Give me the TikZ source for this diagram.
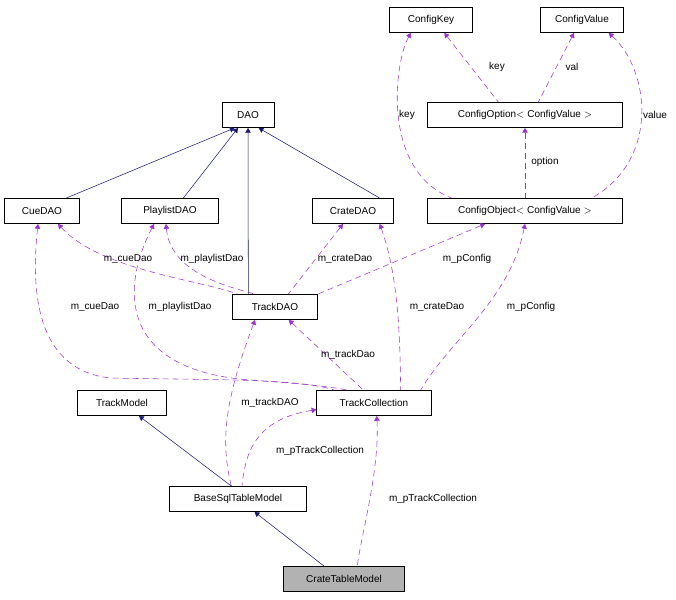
\documentclass[tikz,border=0pt]{standalone}
\usepackage{fontspec}
\setmainfont{Liberation Sans}
\usetikzlibrary{arrows.meta}
\definecolor{navy}{RGB}{25,25,112}
\definecolor{usecol}{RGB}{154,50,205}

\begin{document}
\begin{tikzpicture}[x=0.75pt, y=-0.75pt, font=\fontsize{7.5}{9}\selectfont,
  cls/.style={draw, fill=white, minimum height=19pt, inner sep=2pt},
  inherit/.style={color=navy, {Triangle[fill=navy]}-},
  uses/.style={color=usecol, dash pattern=on 4.5pt off 3pt, {Triangle[fill=usecol]}-},
  lbl/.style={inner sep=1pt}]
\useasboundingbox (0,0) rectangle (676,600);
% classes
\node[cls, minimum width=62pt] (key) at (431,20) {ConfigKey};
\node[cls, minimum width=62pt] (val) at (582,20) {ConfigValue};
\node[cls, minimum width=39pt] (dao) at (248,115) {DAO};
\node[cls, minimum width=146pt] (opt) at (525,115) {ConfigOption$<$ ConfigValue $>$};
\node[cls, minimum width=56pt] (cue) at (42,211) {CueDAO};
\node[cls, minimum width=73pt] (pl) at (170,211) {PlaylistDAO};
\node[cls, minimum width=61pt] (crate) at (353,211) {CrateDAO};
\node[cls, minimum width=146pt] (obj) at (525,211) {ConfigObject$<$ ConfigValue $>$};
\node[cls, minimum width=64pt] (track) at (275,307) {TrackDAO};
\node[cls, minimum width=67pt] (model) at (122,403) {TrackModel};
\node[cls, minimum width=86pt] (coll) at (374,403) {TrackCollection};
\node[cls, minimum width=103pt] (base) at (238,499) {BaseSqlTableModel};
\node[cls, minimum width=91pt, fill=black!30] (ctm) at (344,579) {CrateTableModel};
% inheritance
\draw[inherit] ([xshift=-10pt]dao.south) -- ([xshift=-10pt]cue.north east);
\draw[inherit] (dao) -- ([xshift=10pt]pl.north);
\draw[inherit] (dao) -- ([xshift=-20pt]track.north);
\draw[inherit] ([xshift=8pt]dao.south) -- ([xshift=20pt]crate.north);
\draw[inherit] (model) -- ([xshift=-5pt]base.north);
\draw[inherit] (base) -- ([xshift=-15pt]ctm.north);
% usage
\draw[uses] ([xshift=-15pt]key.south) .. controls (395,60) and (380,170) .. ([xshift=-55pt]obj.north);
\draw[uses] ([xshift=10pt]key.south) -- ([xshift=-20pt]opt.north);
\draw[uses] ([xshift=-6pt]val.south) -- ([xshift=10pt]opt.north);
\draw[uses] ([xshift=20pt]val.south) .. controls (650,70) and (660,160) .. ([xshift=50pt]obj.north);
\draw[uses] (opt) -- (obj);
\draw[uses] ([xshift=-3pt]cue.south) .. controls (30,300) and (40,370) .. (110,378)
  .. controls (200,380) and (300,378) .. ([xshift=-30pt]coll.north);
\draw[uses] ([xshift=12pt]cue.south) .. controls (100,270) and (200,280) .. ([xshift=-28pt]track.north);
\draw[uses] ([xshift=-12pt]pl.south) .. controls (120,290) and (120,370) .. (250,380)
  .. controls (290,383) and (320,385) .. ([xshift=-20pt]coll.north);
\draw[uses] ([xshift=-3pt]pl.south) .. controls (170,270) and (220,285) .. ([xshift=-15pt]track.north);
\draw[uses] (crate) -- ([xshift=10pt]track.north);
\draw[uses] ([xshift=20pt]crate.south) .. controls (400,280) and (400,350) .. ([xshift=20pt]coll.north);
\draw[uses] ([xshift=-30pt]obj.south) -- (track.north east);
\draw[uses] (obj.south) .. controls (510,300) and (450,340) .. ([xshift=35pt]coll.north);
\draw[uses] (track) -- ([xshift=-8pt]coll.north);
\draw[uses] ([xshift=-15pt]track.south) .. controls (225,400) and (220,440) .. ([xshift=-5pt]base.north);
\draw[uses] ([yshift=-5pt]coll.west) .. controls (250,420) and (245,460) .. ([xshift=3pt]base.north);
\draw[uses] ([xshift=2pt]coll.south) .. controls (380,470) and (360,540) .. ([xshift=10pt]ctm.north);
% labels
\node[lbl] (l1) at (497,67) {key};
\node[lbl] (l2) at (572,67) {val};
\node[lbl] (l3) at (407,115) {key};
\node[lbl] (l4) at (655,115) {value};
\node[lbl] (l5) at (545,162) {option};
\node[lbl] (l6) at (128,259) {m\_cueDao};
\node[lbl] (l7) at (212,259) {m\_playlistDao};
\node[lbl] (l8) at (345,259) {m\_crateDao};
\node[lbl] (l9) at (467,259) {m\_pConfig};
\node[lbl] (l10) at (95,307) {m\_cueDao};
\node[lbl] (l11) at (180,307) {m\_playlistDao};
\node[lbl] (l12) at (437,307) {m\_crateDao};
\node[lbl] (l13) at (531,307) {m\_pConfig};
\node[lbl] (l14) at (348,355) {m\_trackDao};
\node[lbl] (l15) at (270,403) {m\_trackDAO};
\node[lbl] (l16) at (320,451) {m\_pTrackCollection};
\node[lbl] (l17) at (433,499) {m\_pTrackCollection};
\end{tikzpicture}
\end{document}
